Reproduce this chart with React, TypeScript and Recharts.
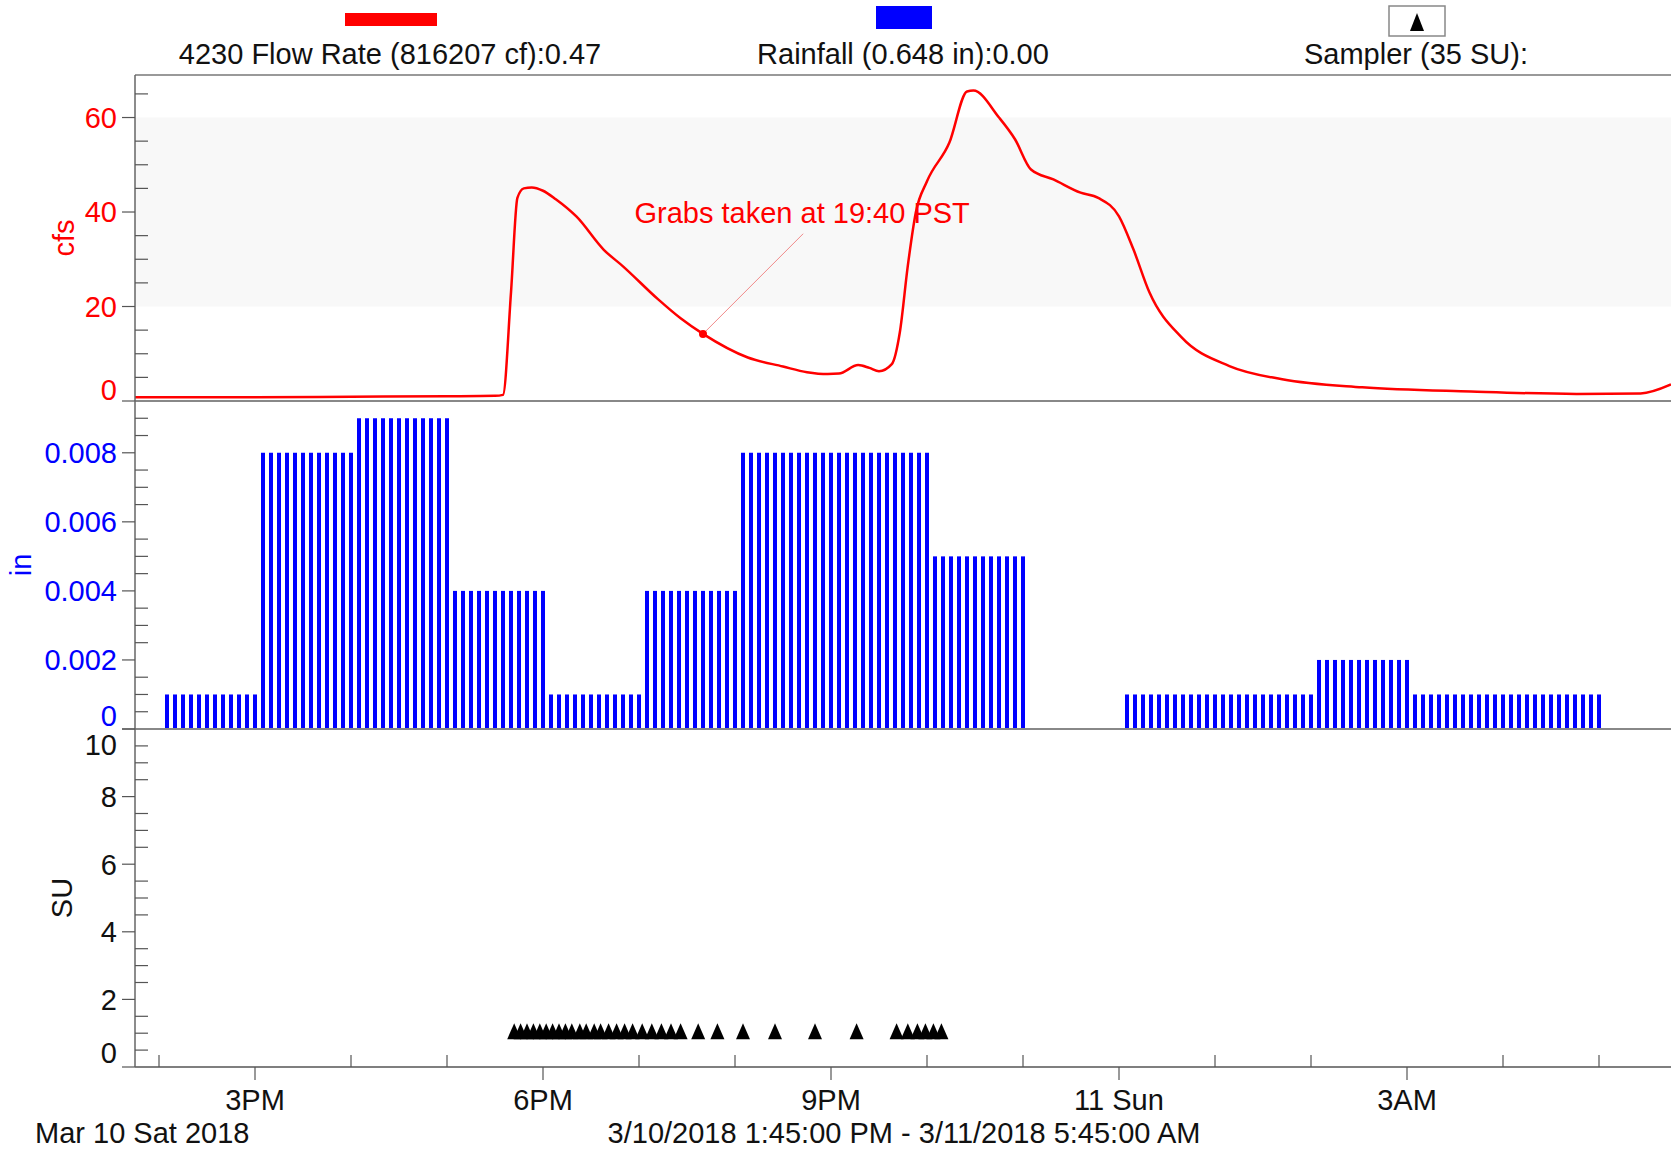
import React from 'react';
import { ComposedChart, Line, Bar, Scatter, XAxis, YAxis, ReferenceLine, ReferenceDot, ReferenceArea } from 'recharts';

const FONT = '"Liberation Sans", Arial, sans-serif';
const W = 1671;
const FS = 29;

// x axis: hours since midnight 3/10 (times after midnight are 24+)
const X_DOMAIN: [number, number] = [13.75, 29.75];
const hourTicks = [14, 15, 16, 17, 18, 19, 20, 21, 22, 23, 24, 25, 26, 27, 28, 29];
const hourLabels: Record<number, string> = { 15: '3PM', 18: '6PM', 21: '9PM', 24: '11 Sun', 27: '3AM' };

// 4230 flow rate (cfs)
const flowTimes = ['13:45', '15:00', '16:00', '17:00', '17:30', '17:35', '17:40', '17:44', '17:48', '17:53', '18:00', '18:08', '18:21', '18:38', '18:50', '19:12', '19:26', '19:40', '20:08', '20:30', '20:45', '20:58', '21:05', '21:17', '21:24', '21:30', '21:38', '21:43', '21:48', '21:53', '22:00', '22:14', '22:25', '22:29', '22:45', '22:55', '23:05', '23:19', '23:36', '23:47', '00:00', '00:09', '00:19', '00:39', '01:09', '01:42', '02:32', '03:40', '04:46', '05:26', '05:45'];
const flowValues = [0.8, 0.8, 0.9, 1.0, 1.1, 1.3, 23, 43, 45, 45.2, 44.5, 42.7, 39, 32, 28.5, 21.5, 17.5, 14.2, 9.2, 7.3, 6.1, 5.7, 5.8, 7.6, 7.0, 6.3, 7.8, 14.5, 28.6, 39.9, 46.5, 54.7, 65.5, 65.7, 60, 55.4, 49, 46.9, 44.1, 43, 39.1, 32.1, 23, 13.5, 7.4, 4.6, 2.9, 2.0, 1.5, 1.6, 3.5];
const flowTicks = [0, 5, 10, 15, 20, 25, 30, 35, 40, 45, 50, 55, 60, 65];
const flowMajor = [0, 20, 40, 60];

// rainfall (in), one value per hour, recorded as 5-minute bars
const rainHourStart = ['14:00', '15:00', '16:00', '17:00', '18:00', '19:00', '20:00', '21:00', '22:00', '23:00', '00:00', '01:00', '02:00', '03:00', '04:00'];
const rainPer5Min = [0.001, 0.008, 0.009, 0.004, 0.001, 0.004, 0.008, 0.008, 0.005, 0, 0.001, 0.001, 0.002, 0.001, 0.001];
const rainTicks = [0, 0.0005, 0.001, 0.0015, 0.002, 0.0025, 0.003, 0.0035, 0.004, 0.0045, 0.005, 0.0055, 0.006, 0.0065, 0.007, 0.0075, 0.008, 0.0085, 0.009];
const rainMajor = [0, 0.002, 0.004, 0.006, 0.008];

// sampler events (SU)
const samplerTimes = ['17:42', '17:46', '17:50', '17:54', '17:58', '18:02', '18:06', '18:10', '18:14', '18:18', '18:23', '18:27', '18:32', '18:36', '18:41', '18:46', '18:51', '18:56', '19:02', '19:08', '19:14', '19:20', '19:26', '19:37', '19:49', '20:05', '20:25', '20:50', '21:16', '21:41', '21:48', '21:54', '21:59', '22:04', '22:09'];
const samplerValue = 1;
const suTicks = [0, 0.5, 1, 1.5, 2, 2.5, 3, 3.5, 4, 4.5, 5, 5.5, 6, 6.5, 7, 7.5, 8, 8.5, 9, 9.5, 10];
const suMajor = [0, 2, 4, 6, 8, 10];

const grabTime = '19:40';
const grabValue = 14.2;
const grabText = 'Grabs taken at 19:40 PST';

const toHour = (s: string) => {
  const [h, m] = s.split(':').map(Number);
  return (h < 12 ? h + 24 : h) + m / 60;
};

const flowData = flowTimes.map((s, i) => ({ t: toHour(s), flow: flowValues[i] }));
const rainData = rainHourStart.flatMap((s, i) =>
  Array.from({ length: 12 }, (_, k) => ({ t: toHour(s) + (k + 1) / 12, rain: rainPer5Min[i] }))
);
const samplerData = samplerTimes.map((s) => ({ t: toHour(s), su: samplerValue }));

const makeYTick = (majors: number[], color: string, fmt: (v: number) => string, nudge: Record<string, number>) =>
  (props: any) => {
    const { x, y, payload } = props;
    const v = payload.value;
    const major = majors.some((m) => Math.abs(m - v) < 1e-9);
    if (!major) {
      return <line x1={x} x2={x + 13} y1={y} y2={y} stroke="#555" strokeWidth={1.2} />;
    }
    const dy = nudge[fmt(v)] || 0;
    return (
      <g>
        <line x1={x - 13} x2={x} y1={y} y2={y} stroke="#555" strokeWidth={1.2} />
        <text x={x - 18} y={y + dy} dy="0.36em" textAnchor="end" fill={color} fontSize={FS} fontFamily={FONT}>
          {fmt(v)}
        </text>
      </g>
    );
  };

const XTick = (props: any) => {
  const { x, y, payload } = props;
  const label = hourLabels[payload.value];
  if (!label) return <line x1={x} x2={x} y1={y - 12} y2={y} stroke="#555" strokeWidth={1.2} />;
  return (
    <g>
      <line x1={x} x2={x} y1={y} y2={y + 13} stroke="#555" strokeWidth={1.2} />
      <text x={x} y={y + 43} textAnchor="middle" fill="#111" fontSize={FS} fontFamily={FONT}>
        {label}
      </text>
    </g>
  );
};

const AxisTitle = (props: any) => {
  const { viewBox, text, color, cx, fallbackY } = props;
  const cy = viewBox && viewBox.height != null ? viewBox.y + viewBox.height / 2 : fallbackY;
  return (
    <text x={cx} y={cy} transform={`rotate(-90 ${cx} ${cy})`} textAnchor="middle" dominantBaseline="central" fill={color} fontSize={FS} fontFamily={FONT}>
      {text}
    </text>
  );
};

const Triangle = (props: any) => {
  const { cx, cy } = props;
  return <polygon points={`${cx - 7},${cy + 6} ${cx + 7},${cy + 6} ${cx},${cy - 10}`} fill="#000" />;
};

const yAxisBase = { width: 135, tickSize: 0, tickMargin: 0, interval: 0 as const, tickLine: false, allowDataOverflow: true, axisLine: { stroke: '#666', strokeWidth: 1.5 } };

export default function App() {
  return (
    <div style={{ position: 'relative', width: W, height: 1152, background: '#fff', overflow: 'hidden' }}>
      <style>{'body{margin:0}'}</style>

      {/* flow rate: plot 75..401 */}
      <div style={{ position: 'absolute', left: 0, top: 0 }}>
        <ComposedChart width={W} height={421} data={flowData} margin={{ top: 75, right: 0, bottom: 20, left: 0 }}>
          <ReferenceArea y1={20} y2={60} fill="#f8f8f8" fillOpacity={1} stroke="none" />
          <XAxis type="number" dataKey="t" domain={X_DOMAIN} hide allowDataOverflow />
          <YAxis
            {...yAxisBase}
            type="number"
            domain={[0, 69]}
            ticks={flowTicks}
            tick={makeYTick(flowMajor, '#ff0000', (v) => String(v), { '0': -11 })}
            label={<AxisTitle text="cfs" color="#ff0000" cx={64} fallbackY={238} />}
          />
          <ReferenceLine y={69} stroke="#999" strokeWidth={2} />
          <ReferenceLine y={0} stroke="#888" strokeWidth={2} />
          <Line type="monotone" dataKey="flow" stroke="#ff0000" strokeWidth={2.5} dot={false} isAnimationActive={false} />
          <ReferenceLine segment={[{ x: toHour(grabTime), y: grabValue }, { x: 20.71, y: 35.4 }]} stroke="#f08a8a" strokeWidth={1} />
          <ReferenceDot x={toHour(grabTime)} y={grabValue} r={4} fill="#ff0000" stroke="none" />
          <ReferenceDot
            x={20.7}
            y={39.9}
            r={0}
            fill="none"
            stroke="none"
            label={{ value: grabText, position: 'center', fill: '#ff0000', fontSize: FS, fontFamily: FONT }}
          />
        </ComposedChart>
      </div>

      {/* rainfall: plot 401..729 */}
      <div style={{ position: 'absolute', left: 0, top: 401 }}>
        <ComposedChart width={W} height={350} data={rainData} margin={{ top: 0, right: 0, bottom: 22, left: 0 }}>
          <XAxis type="number" dataKey="t" domain={X_DOMAIN} hide allowDataOverflow />
          <YAxis
            {...yAxisBase}
            type="number"
            domain={[0, 0.0095]}
            ticks={rainTicks}
            tick={makeYTick(rainMajor, '#0000ff', (v) => (v === 0 ? '0' : v.toFixed(3)), { '0': -13 })}
            label={<AxisTitle text="in" color="#0000ff" cx={21} fallbackY={164} />}
          />
          <Bar dataKey="rain" fill="#0000ff" barSize={4} isAnimationActive={false} />
          <ReferenceLine y={0} stroke="#888" strokeWidth={2} />
        </ComposedChart>
      </div>

      {/* sampler: plot 729..1067 */}
      <div style={{ position: 'absolute', left: 0, top: 709 }}>
        <ComposedChart width={W} height={443} data={samplerData} margin={{ top: 20, right: 0, bottom: 0, left: 0 }}>
          <XAxis
            type="number"
            dataKey="t"
            domain={X_DOMAIN}
            ticks={hourTicks}
            interval={0}
            height={85}
            tickSize={0}
            tickMargin={0}
            tickLine={false}
            axisLine={{ stroke: '#555', strokeWidth: 1.5 }}
            tick={<XTick />}
            allowDataOverflow
          />
          <YAxis
            {...yAxisBase}
            type="number"
            domain={[0, 10]}
            ticks={suTicks}
            tick={makeYTick(suMajor, '#111', (v) => String(v), { '10': 16, '0': -14 })}
            label={<AxisTitle text="SU" color="#111" cx={62} fallbackY={189} />}
          />
          <Scatter dataKey="su" shape={<Triangle />} isAnimationActive={false} />
        </ComposedChart>
      </div>

      {/* legend and footer */}
      <svg width={W} height={1152} style={{ position: 'absolute', left: 0, top: 0, pointerEvents: 'none' }} fontFamily={FONT} fontSize={FS}>
        <rect x={345} y={13} width={92} height={13} fill="#ff0000" />
        <text x={390} y={64} textAnchor="middle" fill="#111">4230 Flow Rate (816207 cf):0.47</text>
        <rect x={876} y={6} width={56} height={23} fill="#0000ff" />
        <text x={903} y={64} textAnchor="middle" fill="#111">Rainfall (0.648 in):0.00</text>
        <rect x={1389} y={6} width={56} height={30} fill="#fff" stroke="#888" strokeWidth={1.5} />
        <polygon points="1410,31 1424,31 1417,13" fill="#000" />
        <text x={1416} y={64} textAnchor="middle" fill="#111">Sampler (35 SU):</text>
        <text x={35} y={1143} fill="#111">Mar 10 Sat 2018</text>
        <text x={904} y={1143} textAnchor="middle" fill="#111">3/10/2018 1:45:00 PM - 3/11/2018 5:45:00 AM</text>
      </svg>
    </div>
  );
}
